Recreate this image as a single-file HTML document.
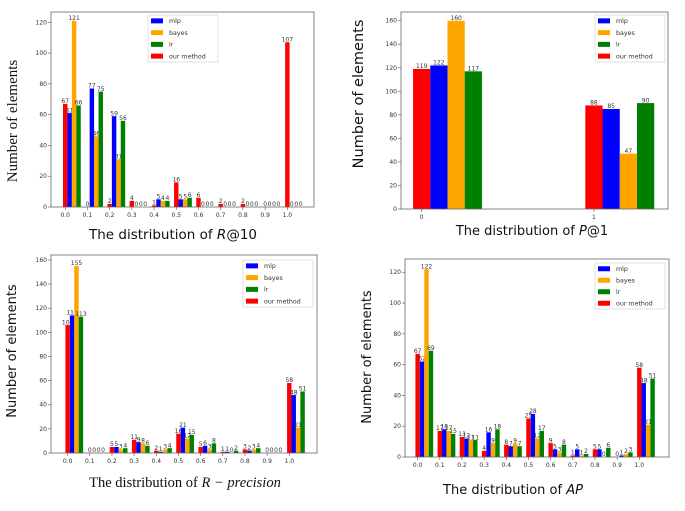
<!DOCTYPE html>
<html><head><meta charset="utf-8">
<style>
html,body{margin:0;padding:0;background:#fff;width:685px;height:511px;overflow:hidden}
svg{display:block}
text{font-family:"DejaVu Sans","Liberation Sans",sans-serif}
</style></head>
<body>
<svg id="fig" width="685" height="511" viewBox="0 0 685 511"></svg>
<script>
const seriesNames = ["mlp","bayes","lr","our method"];
const xTicks10 = ["0.0","0.1","0.2","0.3","0.4","0.5","0.6","0.7","0.8","0.9","1.0"];
const xTicksP1 = ["0","1"];
// values per category: [our method, mlp, bayes, lr]
const r10Values = [[67,61,121,66],[0,77,46,75],[2,59,31,56],[4,0,0,0],[1,5,4,4],[16,5,5,6],[6,0,0,0],[2,0,0,0],[2,0,0,0],[0,0,0,0],[107,0,0,0]];
const p1Values = [[119,122,160,117],[88,85,47,90]];
const rpValues = [[106,114,155,113],[0,0,0,0],[5,5,3,4],[11,9,8,6],[2,1,3,4],[16,21,12,15],[5,6,3,8],[1,1,0,2],[3,2,3,4],[0,0,0,0],[58,48,21,51]];
const apValues = [[67,62,122,69],[17,18,17,15],[13,12,11,11],[4,16,9,18],[8,7,9,7],[25,28,12,17],[9,5,3,8],[1,5,1,2],[5,5,0,6],[0,1,2,3],[58,48,21,51]];
const yTicksR10 = [0,20,40,60,80,100,120];
const yTicksP1 = [0,20,40,60,80,100,120,140,160];
const yTicksRP = [0,20,40,60,80,100,120,140,160];
const yTicksAP = [0,20,40,60,80,100,120];

const NS="http://www.w3.org/2000/svg";
const fig=document.getElementById('fig');
const colors=["#ff0000","#0000ff","#ffa500","#008000"];
const legendColors={"mlp":"#0000ff","bayes":"#ffa500","lr":"#008000","our method":"#ff0000"};
function mk(tag,attrs,parent){const e=document.createElementNS(NS,tag);for(const k in attrs)e.setAttribute(k,attrs[k]);(parent||fig).appendChild(e);return e;}

function panel(cfg){
  const g=mk('g',{});
  
  
  const L=cfg.box[0],T=cfg.box[1],R=cfg.box[2],B=cfg.box[3];
  const xs=v=>L+(v-cfg.xmin)/(cfg.xmax-cfg.xmin)*(R-L);
  const ys=v=>B-(v/cfg.ymax)*(B-T);
  cfg.values.forEach((grp,i)=>{
    grp.forEach((v,s)=>{
      const x0=cfg.xpos[i]+s*cfg.bw-cfg.bw/2;
      const r=mk('rect',{x:xs(x0),y:ys(v),width:xs(x0+cfg.bw)-xs(x0),height:B-ys(v),fill:colors[s]},g);
      
      
      const t=mk('text',{x:xs(x0+cfg.bw/2),y:ys(v)-0.8,'font-size':cfg.lfs,'text-anchor':'middle',fill:'#333'},g);
      t.textContent=v;
      
      
    });
  });
  const f=mk('rect',{x:L,y:T,width:R-L,height:B-T,fill:'none',stroke:'#666','stroke-width':0.8},g);
  
  
  cfg.yticks.forEach(v=>{
    mk('line',{x1:L-3,x2:L,y1:ys(v),y2:ys(v),stroke:'#555','stroke-width':0.6},g);
    const t=mk('text',{x:L-4,y:ys(v)+2,'font-size':6,'text-anchor':'end',fill:'#333'},g);
    t.textContent=v;
    
    
  });
  cfg.xticks.forEach((lab,i)=>{
    const x=xs(cfg.xpos[i]);
    mk('line',{x1:x,x2:x,y1:B,y2:B+3,stroke:'#555','stroke-width':0.6},g);
    const t=mk('text',{x:x,y:B+10,'font-size':6,'text-anchor':'middle',fill:'#333'},g);
    t.textContent=lab;
    
    
  });
  const lg=cfg.legend;
  const lb=mk('rect',{x:lg[0],y:lg[1],width:lg[2]-lg[0],height:lg[3]-lg[1],fill:'#fff',stroke:'#ccc','stroke-width':0.6},g);
  
  
  const step=(lg[3]-lg[1])/4;
  seriesNames.forEach((n,k)=>{
    const yy=lg[1]+step*(k+0.5);
    const h=mk('rect',{x:lg[0]+3,y:yy-2.5,width:12,height:5,fill:legendColors[n]},g);
    
    
    const t=mk('text',{x:lg[0]+21,y:yy+2.2,'font-size':6.3,fill:'#333'},g);
    t.textContent=n;
    
    
  });
  const yt=mk('text',{x:cfg.ylab[0],y:cfg.ylab[1],'font-size':cfg.ylab[2],'text-anchor':'middle',fill:'#111',transform:`rotate(-90 ${cfg.ylab[0]} ${cfg.ylab[1]})`,style:'font-family:'+cfg.ylab[3]},g);
  yt.textContent="Number of elements";
  
  
  const xt=mk('text',{x:cfg.xlab[0],y:cfg.xlab[1],'font-size':cfg.xlab[2],'text-anchor':'middle',fill:'#111',style:'font-family:'+cfg.xlab[3]},g);
  xt.innerHTML=cfg.xtitle;
  
  
}
const tenPos=xTicks10.map(s=>parseFloat(s));
const sans='"DejaVu Sans","Liberation Sans",sans-serif';
const serif='"Liberation Serif",serif';
panel({name:'panel-r-at-10',key:'r10',box:[51,12,314,207],xmin:-0.064,xmax:1.12,ymax:126.7,values:r10Values,xpos:tenPos,bw:0.02,
  yticks:yTicksR10,xticks:xTicks10,legend:[148,15,218,62],lfs:6,ylab:[17,121,15,serif],xlab:[173,239,13.5,sans],
  xtitle:'The distribution of <tspan font-style="italic" style="font-family:'+serif+'">R</tspan>@10'});
panel({name:'panel-p-at-1',key:'p1',box:[401,12,668,209],xmin:-0.12,xmax:1.43,ymax:167.4,values:p1Values,xpos:[0,1],bw:0.1,
  yticks:yTicksP1,xticks:xTicksP1,legend:[595,15,665,62],lfs:6,ylab:[363,94,14.5,sans],xlab:[532,235,13,sans],
  xtitle:'The distribution of <tspan font-style="italic" style="font-family:'+serif+'">P</tspan>@1'});
panel({name:'panel-r-precision',key:'rp',box:[51,255,317,453],xmin:-0.075,xmax:1.125,ymax:164.1,values:rpValues,xpos:tenPos,bw:0.02,
  yticks:yTicksRP,xticks:xTicks10,legend:[243,260,313,307],lfs:6,ylab:[16,351,13,sans],xlab:[185,487,14.5,serif],
  xtitle:'The distribution of <tspan font-style="italic">R − precision</tspan>'});
panel({name:'panel-ap',key:'ap',box:[405,259,669,457],xmin:-0.057,xmax:1.134,ymax:128.6,values:apValues,xpos:tenPos,bw:0.02,
  yticks:yTicksAP,xticks:xTicksAP=xTicks10,legend:[595,263,665,309],lfs:6,ylab:[371,357,13,sans],xlab:[513,494,13,sans],
  xtitle:'The distribution of <tspan font-style="italic" style="font-family:'+serif+'">AP</tspan>'});
</script>
</body></html>
